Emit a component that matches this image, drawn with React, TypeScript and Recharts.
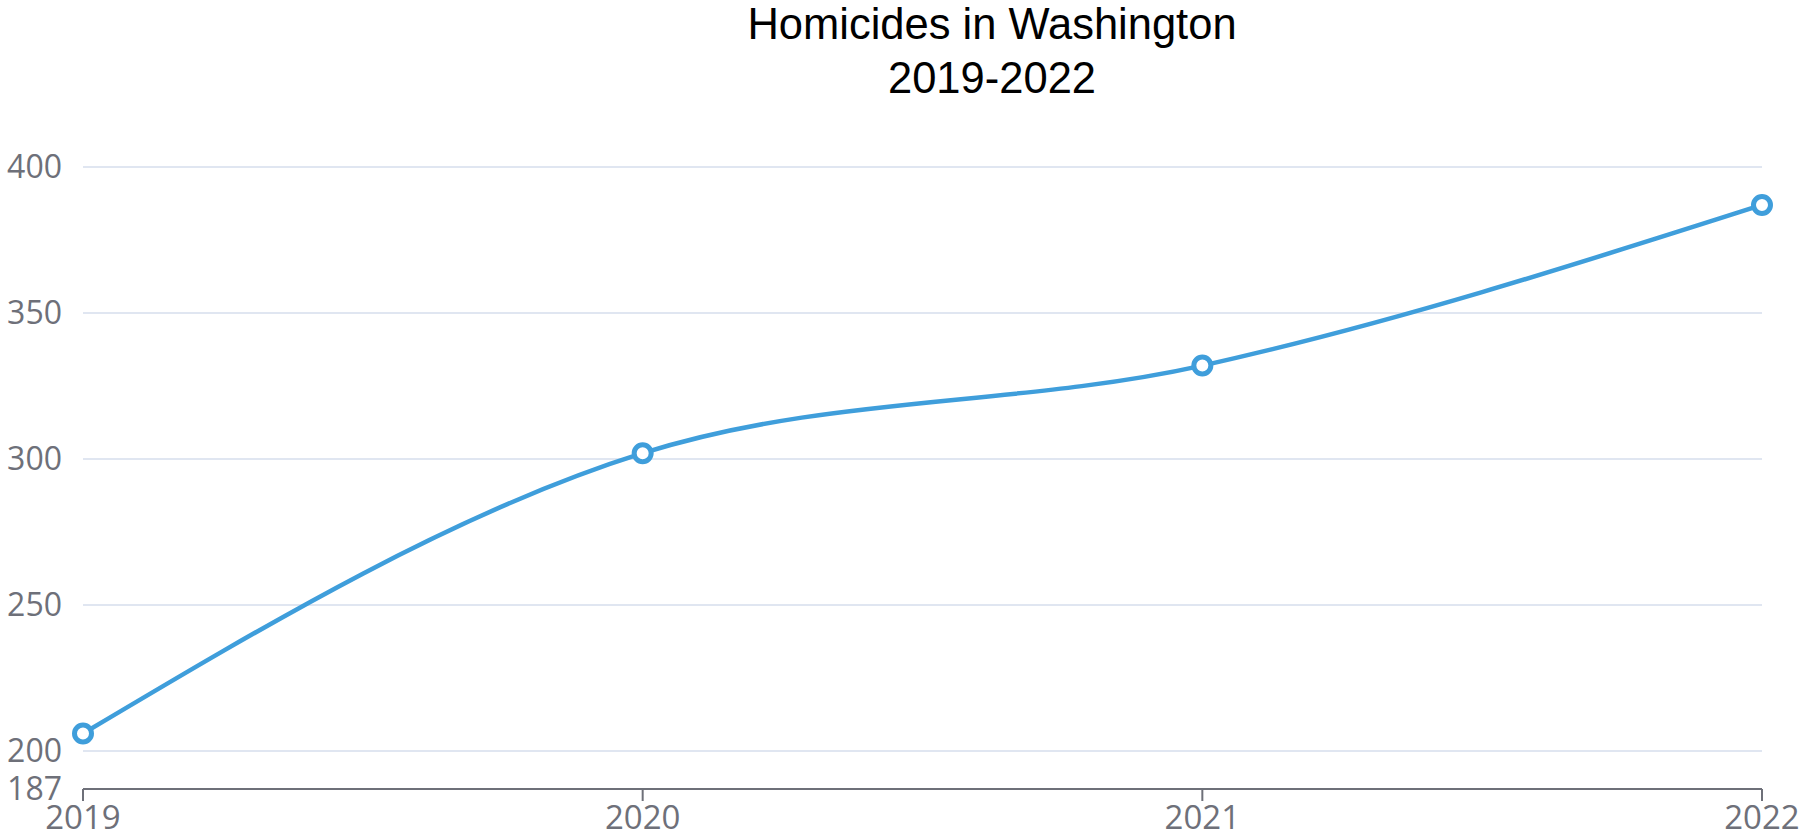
import { LineChart, Line, XAxis, YAxis, CartesianGrid } from 'recharts'

const years = ['2019', '2020', '2021', '2022']
const homicides = [206, 302, 332, 387]
const yTicks = [187, 200, 250, 300, 350, 400]

const data = years.map((year, i) => ({ year, value: homicides[i] }))

const BLUE = '#3f9edb'
const GREY = '#6e7079'

const titleStyle = {
  position: 'absolute' as const,
  left: 0,
  width: 1984,
  textAlign: 'center' as const,
  fontFamily: '"Liberation Sans", Arial, sans-serif',
  fontSize: 43.5,
  lineHeight: '48px',
  color: '#000',
}

export default function App() {
  return (
    <div style={{ position: 'absolute', left: 0, top: 0, width: 1802, height: 840, background: '#fff', overflow: 'hidden' }}>
      {/* Title */}
      <div style={{ ...titleStyle, top: 0 }}>Homicides in Washington</div>
      <div style={{ ...titleStyle, top: 54 }}>2019-2022</div>

      <LineChart width={1802} height={840} data={data} margin={{ top: 167, right: 40, left: 0, bottom: 0 }}>
        <CartesianGrid vertical={false} stroke="#e0e6f1" strokeWidth={2} />
        <XAxis
          dataKey="year"
          interval={0}
          height={51}
          padding={{ left: 0, right: 0 }}
          axisLine={{ stroke: GREY, strokeWidth: 2 }}
          tickLine={{ stroke: GREY, strokeWidth: 2 }}
          tickSize={12}
          tickMargin={5}
          tick={{ fill: GREY, fontSize: 33, fontFamily: '"Open Sans", sans-serif' }}
        />
        <YAxis
          type="number"
          width={83}
          domain={[187, 400]}
          ticks={yTicks}
          interval={0}
          allowDataOverflow
          axisLine={false}
          tickLine={false}
          tickSize={0}
          tickMargin={21}
          tick={{ fill: GREY, fontSize: 32, fontFamily: '"Open Sans", sans-serif' }}
        />
        <Line
          type="monotone"
          dataKey="value"
          stroke={BLUE}
          strokeWidth={4.5}
          dot={{ r: 8.5, stroke: BLUE, strokeWidth: 5, fill: '#fff' }}
          activeDot={false}
          isAnimationActive={false}
        />
      </LineChart>
    </div>
  )
}
